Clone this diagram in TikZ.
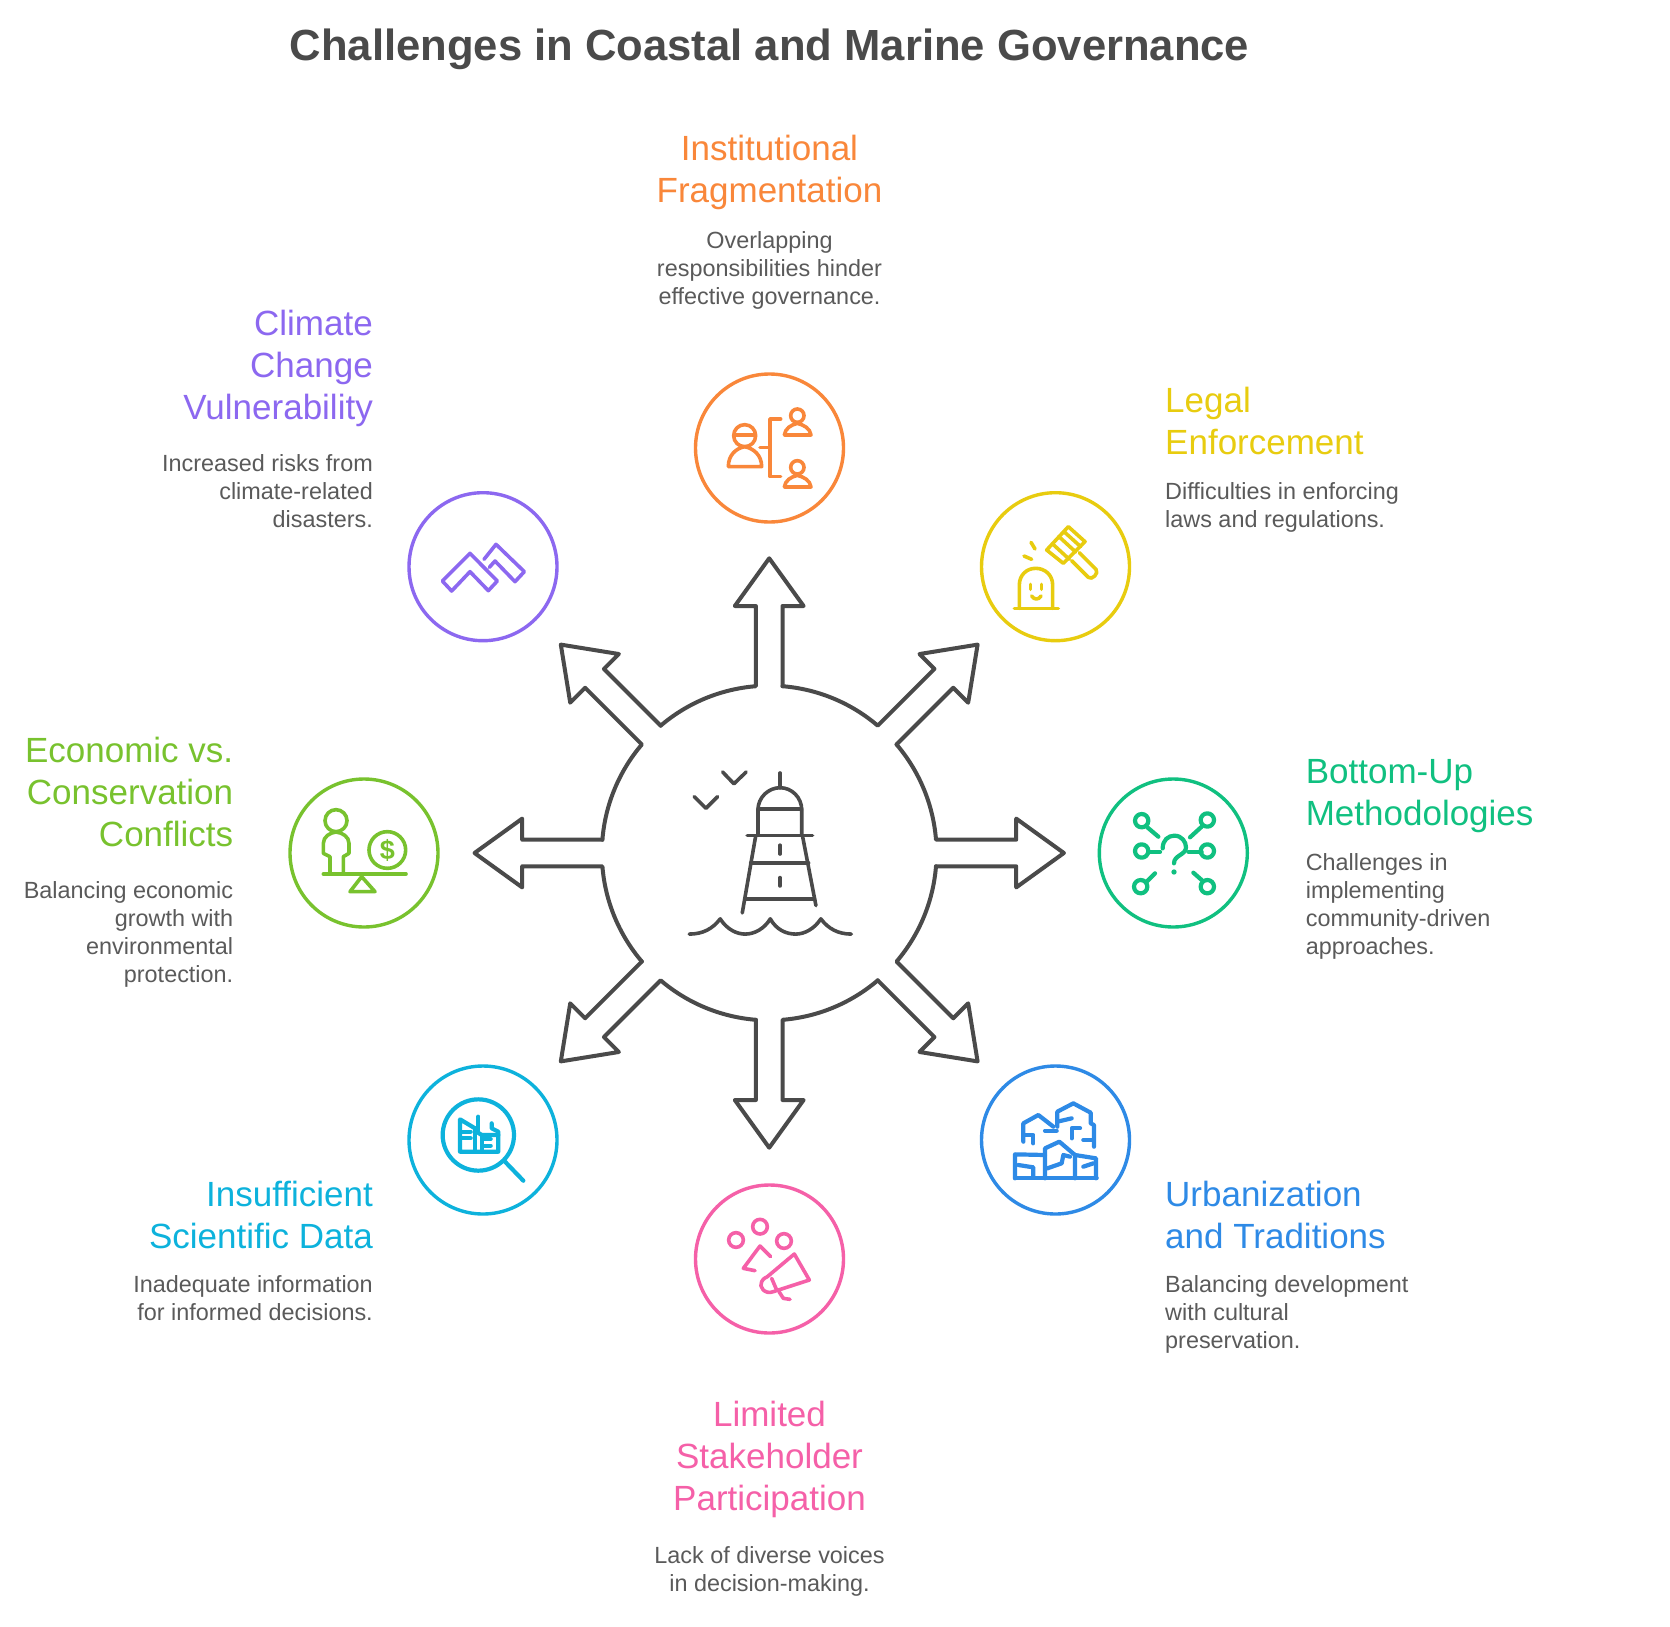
\documentclass[tikz,border=0pt]{standalone}
\usepackage{fontspec}
\setmainfont{Liberation Sans}
\definecolor{cOrange}{HTML}{F9873A}
\definecolor{cYellow}{HTML}{E8CC0F}
\definecolor{cGreen}{HTML}{10C080}
\definecolor{cBlue}{HTML}{2E8AE6}
\definecolor{cPink}{HTML}{F560A8}
\definecolor{cCyan}{HTML}{0DB2DC}
\definecolor{cLime}{HTML}{78C22E}
\definecolor{cPurple}{HTML}{8C68F0}
\definecolor{cInk}{HTML}{4A4A4A}
\definecolor{cDesc}{HTML}{5A5A5A}
\tikzset{
  ring/.style={circle,draw,line width=3.4pt,minimum size=148pt,inner sep=0pt},
  icon/.style={line width=3.6pt,line cap=round,line join=round},
  boldicon/.style={line width=4.2pt,line cap=round,line join=round},
  headtext/.style={inner sep=0pt,yshift=-1pt,font=\fontsize{35}{42}\selectfont},
  desctext/.style={inner sep=0pt,text=cDesc,font=\fontsize{23.4}{28}\selectfont},
  titletext/.style={inner sep=0pt,text=cInk,font=\fontsize{43.6}{50}\selectfont\bfseries}
}
\newcommand{\headblock}[6]{\node[headtext,anchor=north #3,align=#4,text=#5] (#1) at #2 {\rule{0pt}{26pt}#6};}
\newcommand{\descblock}[5]{\node[desctext,anchor=north #3,align=#4] (#1) at #2 {\rule{0pt}{18pt}#5};}
\begin{document}
\begin{tikzpicture}[x=1pt,y=-1pt]
\useasboundingbox (0,0) rectangle (1670,1627);
\fill[white] (0,0) rectangle (1670,1627);

\node[titletext] (title) at (769.5,49) {Challenges in Coastal and Marine Governance};

% rings
\node[ring,draw=cOrange] (rOrange) at (769.5,448) {};
\node[ring,draw=cYellow] (rYellow) at (1055.5,566.7) {};
\node[ring,draw=cGreen] (rGreen) at (1173.3,853) {};
\node[ring,draw=cBlue] (rBlue) at (1055.5,1140) {};
\node[ring,draw=cPink] (rPink) at (769.5,1259) {};
\node[ring,draw=cCyan] (rCyan) at (483,1140) {};
\node[ring,draw=cLime] (rLime) at (364,853) {};
\node[ring,draw=cPurple] (rPurple) at (483,566.7) {};

% central star of arrows
\foreach \a in {0,45,...,315}{
\begin{scope}[shift={(769.2,853)},rotate=\a,x=1pt,y=1pt]
\draw[cInk,line width=4pt,line cap=round,line join=round]
  (166.8,-13.3) -- (247,-13.3) -- (247,-34.4) -- (294.7,0) -- (247,34.4) -- (247,13.3) -- (166.8,13.3)
  arc[start angle=4.56,end angle=40.44,radius=167.3];
\end{scope}}

% lighthouse
\begin{scope}[shift={(450,520)},scale=0.4912,cInk,line width=3.6pt,line cap=round,line join=round]
\draw (672,515) -- (672,545);
\draw (627,642) -- (627,590) .. controls (627,565) and (648,545) .. (672,545) .. controls (696,545) and (716,565) .. (716,590) -- (716,642);
\draw (627,588) -- (716,588);
\draw (605,642) -- (738,642);
\draw (622,645) -- (595,800);
\draw (718,645) -- (745,785);
\draw (612,698) -- (730,698);
\draw (602,772) -- (742,772);
\draw (672,662) -- (672,680);
\draw (672,728) -- (672,745);
\draw (555,513) -- (578,537) -- (603,513);
\draw (497,563) -- (521,587) -- (545,563);
\draw (487,843) .. controls (515,843) and (535,832) .. (550,812)
  .. controls (565,835) and (585,843) .. (601,843) .. controls (620,843) and (640,832) .. (652,812)
  .. controls (665,835) and (685,843) .. (704,843) .. controls (722,843) and (742,832) .. (755,812)
  .. controls (770,832) and (790,843) .. (817,843);
\end{scope}

% orange icon
\begin{scope}[shift={(660,350)},scale=1/3,icon,cOrange]
\draw (254,257) circle (33);
\draw (224,255) -- (284,255);
\draw (205,350) -- (305,350) .. controls (305,315) and (280,295) .. (254,290) .. controls (228,295) and (205,315) .. (205,350);
\draw (300,293) -- (330,293);
\draw (362,207) -- (330,207) -- (330,380) -- (362,380);
\draw (412,197) circle (20);
\draw (373,255) -- (453,255) .. controls (450,235) and (432,225) .. (412,220) .. controls (392,225) and (376,235) .. (373,255);
\draw (412,352) circle (20);
\draw (373,411) -- (453,411) .. controls (450,391) and (432,381) .. (412,376) .. controls (392,381) and (376,391) .. (373,411);
\end{scope}

% yellow icon
\begin{scope}[shift={(660,350)},scale=1/3,icon,cYellow]
\draw (1063,775) -- (1195,775);
\draw (1078,775) -- (1078,705) .. controls (1078,675) and (1100,655) .. (1127,655) .. controls (1155,655) and (1178,675) .. (1178,705) -- (1178,775);
\draw (1112,703) -- (1112,718);
\draw (1145,703) -- (1145,718);
\draw (1115,738) .. controls (1122,750) and (1136,750) .. (1143,738);
\draw (1113,577) -- (1125,597);
\draw (1092,618) -- (1115,628);
\draw (1160,600) -- (1225,530) -- (1275,575) -- (1210,640) -- cycle;
\draw (1178,582) -- (1228,628);
\draw (1197,560) -- (1247,606);
\draw (1212,545) -- (1262,590);
\draw (1235,632) -- (1285,682) .. controls (1295,692) and (1318,670) .. (1308,658) -- (1258,608);
\end{scope}

% purple icon
\begin{scope}[shift={(280,480)},scale=1/3,icon,cPurple]
\draw (487,303) -- (570,220) -- (652,303) -- (625,332) -- (570,275) -- (515,333) -- cycle;
\draw (612,238) -- (648,193) -- (733,275) -- (705,305) -- (645,243) -- (628,262);
\end{scope}

% lime icon
\begin{scope}[shift={(280,480)},scale=1/3,icon,cLime]
\draw (168,1022) circle (33);
\draw (150,1178) -- (150,1130) -- (130,1120) -- (130,1090) .. controls (130,1070) and (150,1058) .. (168,1056) .. controls (187,1058) and (207,1070) .. (207,1090) -- (207,1120) -- (190,1130) -- (190,1178);
\draw (130,1182) -- (378,1182);
\draw (245,1190) -- (285,1235) -- (210,1235) -- cycle;
\draw (322,1110) circle (55);
\node[inner sep=0pt,text=cLime,font=\fontsize{27}{27}\selectfont\bfseries] (dollar) at (322,1110) {\$};
\end{scope}

% green icon
\begin{scope}[shift={(1090,770)},scale=1/3,boldicon,cGreen]
\foreach \p in {(155,152),(155,243),(152,350),(352,150),(352,243),(352,350)} \draw \p circle (20);
\draw (172,172) -- (205,200);
\draw (175,245) -- (210,245);
\draw (170,335) -- (195,310);
\draw (335,170) -- (300,202);
\draw (335,245) -- (295,245);
\draw (335,330) -- (310,308);
\draw (218,235) .. controls (218,210) and (235,197) .. (253,197) .. controls (275,197) and (288,215) .. (288,232) .. controls (288,255) and (252,255) .. (252,280);
\fill (252,306) circle (8);
\end{scope}

% cyan icon
\begin{scope}[shift={(400,1060)},scale=1/3,boldicon,cCyan]
\draw (235,225) circle (107);
\draw (315,305) -- (370,362);
\draw (225,205) -- (180,178) -- (180,275) -- (295,275) -- (295,215) -- (275,205) -- (275,190);
\draw (225,205) -- (225,270);
\draw (235,170) -- (235,212);
\draw (225,212) -- (245,225) -- (295,225);
\draw (245,225) -- (245,270);
\draw (185,215) -- (212,215);
\draw (185,235) -- (212,235);
\draw (250,237) -- (272,237);
\draw (250,257) -- (272,257);
\end{scope}

% blue icon
\begin{scope}[shift={(970,1060)},scale=1/3,boldicon,cBlue]
\draw (135,355) -- (380,355);
\draw (135,355) -- (135,283) -- (225,285);
\draw (145,315) -- (190,322) -- (190,352);
\draw (225,355) -- (225,265) -- (268,245) -- (315,285) -- (315,355);
\draw (232,325) -- (275,310) -- (280,285) -- (300,290);
\draw (315,285) -- (378,295) -- (378,355);
\draw (340,320) -- (370,310);
\draw (160,245) -- (160,190) -- (205,165) -- (250,200);
\draw (160,225) -- (190,225) -- (190,250);
\draw (225,212) -- (260,212);
\draw (262,200) -- (262,155) -- (310,130) -- (362,158) -- (362,190) -- (372,195) -- (372,260);
\draw (262,185) -- (305,175);
\draw (305,235) -- (305,205) -- (330,205);
\draw (340,240) -- (365,240);
\end{scope}

% pink icon
\begin{scope}[shift={(680,1180)},scale=1/3,icon,cPink]
\draw (240,140) circle (22);
\draw (168,180) circle (22);
\draw (312,183) circle (22);
\draw (272,230) -- (240,198) -- (190,265) -- (225,272);
\draw (262,290) -- (343,222) -- (388,300) -- (280,335) .. controls (255,345) and (235,320) .. (245,305) .. controls (250,295) and (258,292) .. (262,290);
\draw (275,295) -- (290,330);
\draw (297,335) -- (310,355) -- (330,358);
\end{scope}

% texts
\headblock{hOrange}{(769.5,133)}{}{center}{cOrange}{Institutional\\Fragmentation}
\descblock{dOrange}{(769.5,230)}{}{center}{Overlapping\\responsibilities hinder\\effective governance.}
\headblock{hYellow}{(1165,385)}{west}{left}{cYellow}{Legal\\Enforcement}
\descblock{dYellow}{(1165,481)}{west}{left}{Difficulties in enforcing\\laws and regulations.}
\headblock{hGreen}{(1305.6,756)}{west}{left}{cGreen}{Bottom-Up\\Methodologies}
\descblock{dGreen}{(1305.6,852)}{west}{left}{Challenges in\\implementing\\community-driven\\approaches.}
\headblock{hBlue}{(1165,1179)}{west}{left}{cBlue}{Urbanization\\and Traditions}
\descblock{dBlue}{(1165,1274)}{west}{left}{Balancing development\\with cultural\\preservation.}
\headblock{hPink}{(769.5,1399)}{}{center}{cPink}{Limited\\Stakeholder\\Participation}
\descblock{dPink}{(769.5,1545)}{}{center}{Lack of diverse voices\\in decision-making.}
\headblock{hCyan}{(373,1179)}{east}{right}{cCyan}{Insufficient\\Scientific Data}
\descblock{dCyan}{(373,1274)}{east}{right}{Inadequate information\\for informed decisions.}
\headblock{hLime}{(233.4,735)}{east}{right}{cLime}{Economic vs.\\Conservation\\Conflicts}
\descblock{dLime}{(233.4,880)}{east}{right}{Balancing economic\\growth with\\environmental\\protection.}
\headblock{hPurple}{(373,308)}{east}{right}{cPurple}{Climate\\Change\\Vulnerability}
\descblock{dPurple}{(373,453)}{east}{right}{Increased risks from\\climate-related\\disasters.}
\end{tikzpicture}
\end{document}
